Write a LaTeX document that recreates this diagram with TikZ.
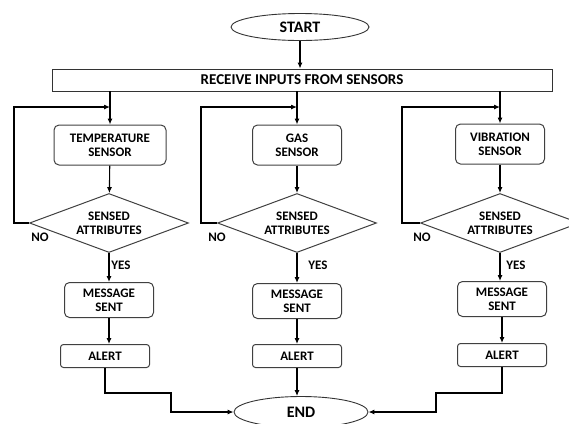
\documentclass[tikz,border=0pt]{standalone}
\usepackage{fontspec}
\setmainfont{Carlito}
\usetikzlibrary{shapes.geometric, arrows.meta}

\begin{document}
\begin{tikzpicture}[x=1bp, y=-1bp,
    every node/.style={font=\fontsize{13bp}{14bp}\selectfont\bfseries, align=center},
    terminal/.style={ellipse, draw=black!80, line width=0.9bp, minimum width=138bp, minimum height=27bp, inner sep=0pt, font=\fontsize{16bp}{18bp}\selectfont\bfseries},
    inputbox/.style={rectangle, draw=black!80, line width=0.9bp, minimum width=500bp, minimum height=22bp, inner sep=0pt, font=\fontsize{15bp}{17bp}\selectfont\bfseries},
    sensorbox/.style={rectangle, rounded corners=5bp, draw=black!75, line width=1bp, minimum width=89bp, minimum height=40bp, inner sep=1bp},
    alertbox/.style={rectangle, rounded corners=3bp, draw=black!75, line width=1bp, minimum width=89bp, minimum height=23bp, inner sep=1bp},
    check/.style={diamond, draw=black!75, line width=1bp, aspect=2.67, minimum width=159bp, minimum height=59bp, inner sep=0pt},
    conn/.style={-{Latex[length=6bp,width=5bp]}, line width=1.1bp},
    tag/.style={inner sep=0pt}
]
    \clip (0,0) rectangle (569,423);

    % Start and inputs
    \node[terminal] (start) at (300,27) {START};
    \node[inputbox] (inputs) at (302,80) {RECEIVE INPUTS FROM SENSORS};

    % Sensors
    \node[sensorbox, minimum width=112bp] (temp) at (110,145) {TEMPERATURE\\SENSOR};
    \node[sensorbox] (gas) at (297,145) {GAS\\SENSOR};
    \node[sensorbox] (vib) at (500,144) {VIBRATION\\SENSOR};

    % Decisions
    \node[check] (chk1) at (109,223) {SENSED\\ATTRIBUTES};
    \node[check] (chk2) at (297,223) {SENSED\\ATTRIBUTES};
    \node[check] (chk3) at (500,223) {SENSED\\ATTRIBUTES};

    % Messages and alerts
    \node[sensorbox, minimum height=35bp] (msg1) at (109,300) {MESSAGE\\SENT};
    \node[sensorbox, minimum height=35bp] (msg2) at (297,301) {MESSAGE\\SENT};
    \node[sensorbox, minimum height=35bp] (msg3) at (502,299) {MESSAGE\\SENT};
    \node[alertbox] (alert1) at (105,356) {ALERT};
    \node[alertbox] (alert2) at (297,356) {ALERT};
    \node[alertbox] (alert3) at (502,355) {ALERT};

    % End
    \node[terminal, minimum width=134bp, minimum height=31bp] (end) at (301,412) {END};

    % Labels for the branches
    \node[tag] (no1) at (40,237) {NO};
    \node[tag] (no2) at (217,237) {NO};
    \node[tag] (no3) at (422,237) {NO};
    \node[tag] (yes1) at (121,265) {YES};
    \node[tag] (yes2) at (318,265) {YES};
    \node[tag] (yes3) at (516,265) {YES};

    % Loop corners and bends
    \coordinate (back1) at (14,107);
    \coordinate (back2) at (201,107);
    \coordinate (back3) at (402,107);
    \coordinate (bendl) at (171,393);
    \coordinate (bendr) at (436,393);

    % Main flow
    \draw[conn] (start) -- (inputs.north -| start);
    \draw[conn] (inputs.south -| temp.north) -- (temp);
    \draw[conn] (inputs.south -| gas.north) -- (gas);
    \draw[conn] (inputs.south -| vib.north) -- (vib);
    \draw[conn] (temp) -- (chk1);
    \draw[conn] (gas) -- (chk2);
    \draw[conn] (vib) -- (chk3);
    \draw[conn] (chk1) -- (msg1);
    \draw[conn] (chk2) -- (msg2);
    \draw[conn] (chk3) -- (msg3.north -| chk3);
    \draw[conn] (msg1) -- (alert1.north -| msg1);
    \draw[conn] (msg2) -- (alert2);
    \draw[conn] (msg3) -- (alert3);

    % Loops back when nothing is sensed
    \draw[conn] (chk1.west) -| (back1) -- (back1 -| temp.north);
    \draw[conn] (chk2.west) -| (back2) -- (back2 -| gas.north);
    \draw[conn] (chk3.west) -| (back3) -- (back3 -| vib.north);

    % Into the end
    \draw[conn] (alert1) |- (bendl) |- (end.west);
    \draw[conn] (alert2) -- (end.north -| alert2);
    \draw[conn] (alert3) |- (bendr) |- (end.east);
\end{tikzpicture}
\end{document}
